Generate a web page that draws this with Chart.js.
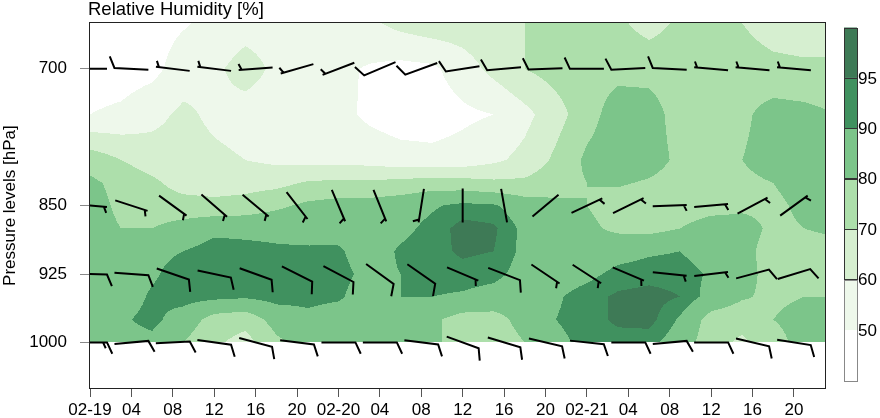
<!DOCTYPE html>
<html>
<head>
<meta charset="utf-8">
<script src="https://cdn.jsdelivr.net/npm/chart.js@4.4.1/dist/chart.umd.min.js"></script>
<style>
  html, body { margin: 0; padding: 0; background: #fff; }
</style>
</head>
<body>
<canvas id="rh" width="880" height="418"></canvas>
<script>
// ================================
// RH time-height section + wind barbs
// ================================

// grid: hours since 02-19 00, pressure levels (hPa)
const hours  = [0, 3, 6, 9, 12, 15, 18, 21, 24, 27, 30, 33, 36, 39, 42, 45, 48, 51, 54, 57, 60, 63, 66, 69, 72];
const levels = [650, 700, 750, 800, 825, 850, 875, 900, 925, 950, 975, 1000];

// relative humidity (%) per level, read along the hours above
const rh650  = [45, 45, 46, 49, 53, 56, 56, 56, 57, 58, 63, 66, 66, 68, 70, 73, 74, 72, 66, 72, 74, 70, 65, 64, 64];
const rh700  = [45, 45, 47, 55, 58, 64, 58, 55, 52, 49, 47, 48, 55, 63, 70, 74, 76, 77, 77, 76, 76, 75, 73, 72, 72];
const rh750  = [50, 52, 57, 62, 58, 56, 55, 54, 53, 48, 45, 45, 48, 50, 57, 66, 76, 85, 84, 76, 75, 78, 84, 83, 80];
const rh800  = [76, 70, 65, 64, 62, 60, 58, 57, 57, 56, 54, 53, 54, 58, 63, 72, 82, 86, 84, 78, 76, 80, 84, 84, 82];
const rh825  = [82, 77, 72, 66, 65, 66, 67, 71, 72, 72, 73, 75, 74, 72, 72, 76, 80, 81, 79, 76, 76, 78, 80, 84, 84];
const rh850  = [84, 78, 75, 74, 73, 74, 78, 82, 84, 84, 86, 89, 92, 91, 85, 82, 80, 76, 74, 74, 76, 78, 78, 82, 84];
const rh875  = [84, 80, 80, 84, 88, 88, 88, 87, 87, 86, 88, 92, 97, 96, 88, 84, 82, 78, 77, 80, 85, 84, 78, 80, 82];
const rh900  = [80, 84, 88, 90, 93, 92, 91, 91, 91, 86, 91, 93, 96, 95, 88, 84, 84, 87, 89, 90, 86, 83, 76, 76, 76];
const rh925  = [84, 86, 89, 93, 93, 93, 95, 93, 92, 88, 90, 93, 93, 92, 87, 86, 88, 92, 93, 93, 89, 84, 76, 76, 76];
const rh950  = [80, 86, 91, 93, 92, 91, 93, 92, 91, 86, 90, 90, 89, 87, 85, 89, 93, 96, 97, 95, 87, 81, 78, 80, 80];
const rh975  = [84, 89, 92, 86, 76, 74, 84, 88, 86, 85, 84, 82, 76, 76, 84, 90, 93, 96, 97, 89, 76, 74, 80, 84, 85];
const rh1000 = [84, 87, 88, 80, 72, 66, 78, 84, 84, 84, 83, 82, 76, 74, 80, 88, 92, 93, 92, 86, 74, 68, 76, 84, 84];

// contour bins + colours
const rhBounds = [50, 60, 70, 80, 90, 95];
const rhColors = ["#ffffff", "#eef8eb", "#d6efd0", "#addfab", "#7cc58a", "#40915f", "#3e7a56"];

// wind barbs: every 4 h at 4 levels, direction (deg, from) and speed (kt)
const barbHours  = [0, 4, 8, 12, 16, 20, 24, 28, 32, 36, 40, 44, 48, 52, 56, 60, 64, 68];
const barbLevels = [700, 850, 925, 1000];
const dir700  = [270, 273, 277, 277, 266, 254, 249, 247, 250, 261, 265, 268, 270, 267, 273, 275, 275, 275];
const spd700  = [10, 10, 5, 5, 5, 5, 5, 10, 10, 10, 10, 10, 10, 10, 10, 5, 5, 5];
const dir850  = [95, 108, 126, 131, 130, 142, 157, 158, 189, 180, 170, 50, 65, 64, 88, 85, 62, 54];
const spd850  = [5, 5, 5, 5, 5, 5, 5, 5, 5, 0, 0, 0, 5, 5, 5, 5, 5, 5];
const dir925  = [92, 94, 109, 102, 110, 117, 118, 126, 125, 113, 111, 124, 123, 113, 96, 83, 75, 73];
const spd925  = [10, 10, 10, 10, 10, 10, 10, 10, 10, 5, 10, 5, 5, 5, 5, 5, 10, 10];
const dir1000 = [90, 85, 87, 98, 105, 97, 90, 90, 97, 110, 107, 103, 96, 90, 85, 90, 103, 99];
const spd1000 = [15, 10, 10, 10, 10, 10, 10, 10, 10, 10, 10, 10, 10, 10, 10, 10, 10, 10];

// axis ticks
const tickHours  = [0, 4, 8, 12, 16, 20, 24, 28, 32, 36, 40, 44, 48, 52, 56, 60, 64, 68];
const dayLabels  = ["02-19", "02-20", "02-21"];
const yTicks     = [700, 850, 925, 1000];
const cbarLabels = ["50", "60", "70", "80", "90", "95"];

const FONT = '"Liberation Sans", Arial, sans-serif';
const rhRows = [rh650, rh700, rh750, rh800, rh825, rh850, rh875, rh900, rh925, rh950, rh975, rh1000];
const barbDirs = [dir700, dir850, dir925, dir1000];
const barbSpds = [spd700, spd850, spd925, spd1000];

function locate(arr, v) {
  // index i so that arr[i] <= v <= arr[i+1]
  let i = 0;
  while (i < arr.length - 2 && v > arr[i + 1]) i++;
  return i;
}

function rhAt(h, p) {
  const i = locate(levels, p);
  const j = locate(hours, h);
  const ty = Math.min(1, Math.max(0, (p - levels[i]) / (levels[i + 1] - levels[i])));
  const tx = Math.min(1, Math.max(0, (h - hours[j]) / (hours[j + 1] - hours[j])));
  const a = rhRows[i][j], b = rhRows[i][j + 1];
  const c = rhRows[i + 1][j], d = rhRows[i + 1][j + 1];
  return (a * (1 - tx) + b * tx) * (1 - ty) + (c * (1 - tx) + d * tx) * ty;
}

function binOf(v) {
  let k = 0;
  while (k < rhBounds.length && v >= rhBounds[k]) k++;
  return k;
}

// filled contours (pixel rows, run-length)
const rhField = {
  id: "rhField",
  beforeDatasetsDraw(chart) {
    const { ctx, chartArea, scales: { x, y } } = chart;
    const top = Math.round(Math.max(chartArea.top, y.getPixelForValue(levels[0])));
    const bot = Math.round(Math.min(chartArea.bottom, y.getPixelForValue(levels[levels.length - 1])));
    const left = Math.round(chartArea.left), right = Math.round(chartArea.right);
    ctx.save();
    for (let py = top; py < bot; py++) {
      const p = y.getValueForPixel(py + 0.5);
      let start = left, cur = -1;
      for (let px = left; px <= right; px++) {
        const k = px < right ? binOf(rhAt(x.getValueForPixel(px + 0.5), p)) : -2;
        if (k !== cur) {
          if (cur >= 0) {
            ctx.fillStyle = rhColors[cur];
            ctx.fillRect(start, py, px - start, 1);
          }
          start = px;
          cur = k;
        }
      }
    }
    ctx.restore();
  }
};

// wind barbs, pivot in the middle, barbs at the upwind end
const windBarbs = {
  id: "windBarbs",
  afterDatasetsDraw(chart) {
    const { ctx, chartArea } = chart;
    const L = 34, full = 12.5, half = 6.5, rot = 65 * Math.PI / 180;
    ctx.save();
    ctx.beginPath();
    ctx.rect(chartArea.left, chartArea.top, chartArea.right - chartArea.left, chartArea.bottom - chartArea.top);
    ctx.clip();
    ctx.strokeStyle = "#000";
    ctx.lineWidth = 2;
    ctx.lineCap = "butt";
    ctx.lineJoin = "miter";
    barbLevels.forEach((lev, li) => {
      const meta = chart.getDatasetMeta(li);
      meta.data.forEach((pt, k) => {
        const a = barbDirs[li][k] * Math.PI / 180;
        const dx = Math.sin(a), dy = -Math.cos(a);
        const ex = pt.x + dx * L / 2, ey = pt.y + dy * L / 2;
        const bx = dx * Math.cos(rot) - dy * Math.sin(rot);
        const by = dx * Math.sin(rot) + dy * Math.cos(rot);
        ctx.beginPath();
        ctx.moveTo(pt.x - dx * L / 2, pt.y - dy * L / 2);
        ctx.lineTo(ex, ey);
        let spd = barbSpds[li][k];
        let off = 0;
        if (spd >= 10) {
          ctx.lineTo(ex + bx * full, ey + by * full);
          spd -= 10;
          off = 4;
          while (spd >= 10) {
            const sx = ex - dx * off, sy = ey - dy * off;
            ctx.moveTo(sx, sy);
            ctx.lineTo(sx + bx * full, sy + by * full);
            spd -= 10;
            off += 4;
          }
        } else if (spd >= 5) {
          off = 3;
        }
        if (spd >= 5) {
          const sx = ex - dx * off, sy = ey - dy * off;
          ctx.moveTo(sx, sy);
          ctx.lineTo(sx + bx * half, sy + by * half);
        }
        ctx.stroke();
      });
    });
    ctx.restore();
  }
};

// frame, titles, colourbar
const decorations = {
  id: "decorations",
  afterDraw(chart) {
    const { ctx, chartArea } = chart;
    ctx.save();
    ctx.strokeStyle = "#222";
    ctx.lineWidth = 1;
    ctx.strokeRect(Math.round(chartArea.left) - 0.5, Math.round(chartArea.top) - 0.5,
      Math.round(chartArea.right - chartArea.left) + 1, Math.round(chartArea.bottom - chartArea.top) + 1);

    ctx.fillStyle = "#000";
    ctx.font = "18.5px " + FONT;
    ctx.textAlign = "left";
    ctx.textBaseline = "alphabetic";
    ctx.fillText("Relative Humidity [%]", 88, 15);

    ctx.font = "17px " + FONT;
    ctx.save();
    ctx.translate(10, (chartArea.top + chartArea.bottom) / 2);
    ctx.rotate(-Math.PI / 2);
    ctx.textAlign = "center";
    ctx.textBaseline = "middle";
    ctx.fillText("Pressure levels [hPa]", 0, 0);
    ctx.restore();

    // colourbar
    const cx = 844, cw = 13, ctop = 27.5, cbot = 380.5;
    const n = rhColors.length, bh = (cbot - ctop) / n;
    for (let k = 0; k < n; k++) {
      const y1 = cbot - (k + 1) * bh;
      ctx.fillStyle = rhColors[k];
      ctx.fillRect(cx, y1, cw, bh);
    }
    ctx.strokeStyle = "#888";
    ctx.strokeRect(cx + 0.5, Math.round(cbot - 2 * bh) + 0.5, cw, Math.round(2 * bh));
    ctx.strokeStyle = "#333";
    for (let k = 2; k < n; k++) {
      const y1 = Math.round(cbot - (k + 1) * bh) + 0.5;
      ctx.strokeRect(cx + 0.5, y1, cw, Math.round(bh));
    }
    ctx.fillStyle = "#000";
    ctx.textAlign = "left";
    ctx.textBaseline = "middle";
    cbarLabels.forEach((lab, k) => {
      ctx.fillText(lab, 858, cbot - (k + 1) * bh + 1);
    });
    ctx.restore();
  }
};

const barbSets = barbLevels.map((lev) => ({
  data: barbHours.map((h) => ({ x: h, y: lev })),
  pointRadius: 0,
  showLine: false
}));

new Chart(document.getElementById("rh"), {
  type: "scatter",
  data: { datasets: barbSets },
  options: {
    responsive: false,
    animation: false,
    layout: { padding: { left: 0, right: 55, top: 20, bottom: 0 } },
    plugins: {
      legend: { display: false },
      tooltip: { enabled: false },
      title: { display: false }
    },
    scales: {
      x: {
        type: "linear",
        min: 0,
        max: 71,
        afterBuildTicks: (scale) => { scale.ticks = tickHours.map((v) => ({ value: v })); },
        afterFit: (scale) => { scale.height = 30; },
        border: { display: false },
        grid: { drawOnChartArea: false, drawTicks: true, tickLength: 9, tickColor: "#555" },
        ticks: {
          autoSkip: false,
          maxRotation: 0,
          minRotation: 0,
          padding: 3,
          color: "#000",
          font: { family: FONT, size: 17 },
          callback: (v) => (v % 24 === 0 ? dayLabels[v / 24] : String(v % 24).padStart(2, "0"))
        }
      },
      y: {
        type: "linear",
        reverse: true,
        min: 650,
        max: 1050,
        afterBuildTicks: (scale) => { scale.ticks = yTicks.map((v) => ({ value: v })); },
        afterFit: (scale) => { scale.width = 90; },
        border: { display: false },
        grid: { drawOnChartArea: false, drawTicks: true, tickLength: 10, tickColor: "#888" },
        ticks: {
          padding: 13,
          color: "#000",
          font: { family: FONT, size: 17 },
          callback: (v) => String(v)
        }
      }
    }
  },
  plugins: [rhField, windBarbs, decorations]
});
</script>
</body>
</html>
